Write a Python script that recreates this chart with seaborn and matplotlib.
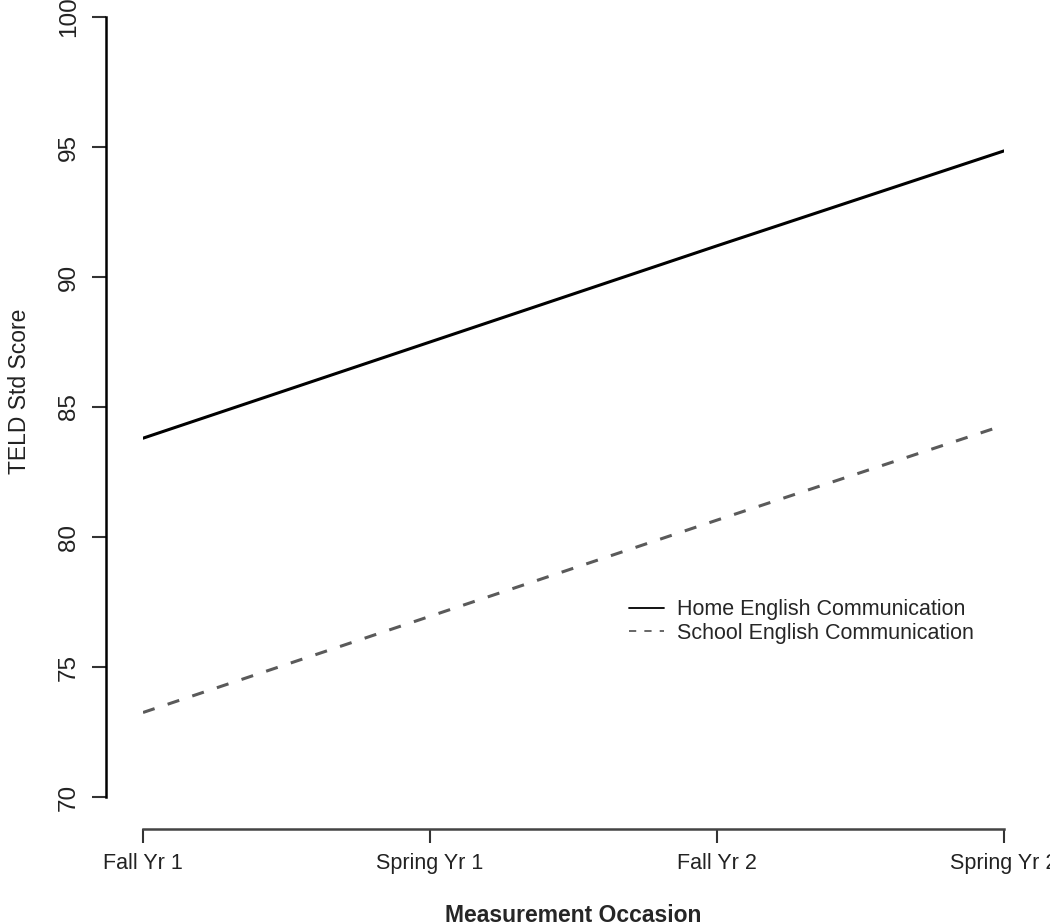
import matplotlib
matplotlib.use("Agg")
import matplotlib.pyplot as plt
import pandas as pd
import seaborn as sns

# values
OCCASIONS = ["Fall Yr 1", "Spring Yr 1", "Fall Yr 2", "Spring Yr 2"]
GROUPS = ["Home English Communication", "School English Communication"]
HOME_SCORES = [83.8, 87.5, 91.2, 94.85]
SCHOOL_SCORES = [73.25, 76.95, 80.65, 84.3]
Y_TICKS = [70, 75, 80, 85, 90, 95, 100]

sns.set_theme(style="white")
plt.rcParams["font.family"] = ["Liberation Sans", "DejaVu Sans"]

df = pd.DataFrame({
    "occasion": list(range(len(OCCASIONS))) * 2,
    "score": HOME_SCORES + SCHOOL_SCORES,
    "group": [GROUPS[0]] * len(HOME_SCORES) + [GROUPS[1]] * len(SCHOOL_SCORES),
})

fig = plt.figure(figsize=(10.5, 9.23), dpi=100)
ax = fig.add_axes([143 / 1050, 126 / 923, 861 / 1050, 780 / 923])

sns.lineplot(
    data=df,
    x="occasion",
    y="score",
    hue="group",
    style="group",
    hue_order=GROUPS,
    style_order=GROUPS,
    palette={GROUPS[0]: "black", GROUPS[1]: "#5a5a5a"},
    dashes={GROUPS[0]: "", GROUPS[1]: (4, 4.5)},
    linewidth=2.2,
    ax=ax,
)

# R-style detached axes (spine moves reset ticks, so do them first)
for side in ("top", "right"):
    ax.spines[side].set_visible(False)
ax.spines["left"].set_position(("outward", 26.6))
ax.spines["bottom"].set_position(("outward", 23))
ax.spines["left"].set_linewidth(1.8)
ax.spines["bottom"].set_linewidth(1.8)
ax.spines["left"].set_color("black")
ax.spines["bottom"].set_color("#444444")

ax.set_xlim(0, len(OCCASIONS) - 1)
ax.set_ylim(Y_TICKS[0], Y_TICKS[-1])
ax.spines["bottom"].set_bounds(0, len(OCCASIONS) - 1)
ax.spines["left"].set_bounds(Y_TICKS[0], Y_TICKS[-1])

ax.set_xticks(range(len(OCCASIONS)))
ax.set_xticklabels(OCCASIONS, fontsize=15.5, color="#222222")
ax.set_yticks(Y_TICKS)
ax.set_yticklabels([str(t) for t in Y_TICKS], fontsize=17.5, rotation=90,
                   va="center", color="#222222")

ax.tick_params(axis="both", which="major", length=10, width=1.5,
               color="#333333", bottom=True, left=True)
ax.tick_params(axis="x", pad=7)
ax.tick_params(axis="y", pad=9)

ax.set_xlabel("Measurement Occasion", fontsize=16.5, fontweight="bold", labelpad=22)
ax.set_ylabel("TELD Std Score", fontsize=16.5, color="#222222")
ax.yaxis.set_label_coords(-112 / 861, 0.52)

ax.legend(
    title=None,
    loc="upper left",
    bbox_to_anchor=(610 / 1050, 1 - 580 / 923),
    bbox_transform=fig.transFigure,
    frameon=False,
    fontsize=15.5,
    handlelength=1.6,
    handletextpad=0.6,
    labelspacing=0.1,
)
for line in ax.get_legend().get_lines():
    line.set_linewidth(1.3)

fig.savefig("out.png", dpi=100)
plt.close(fig)
